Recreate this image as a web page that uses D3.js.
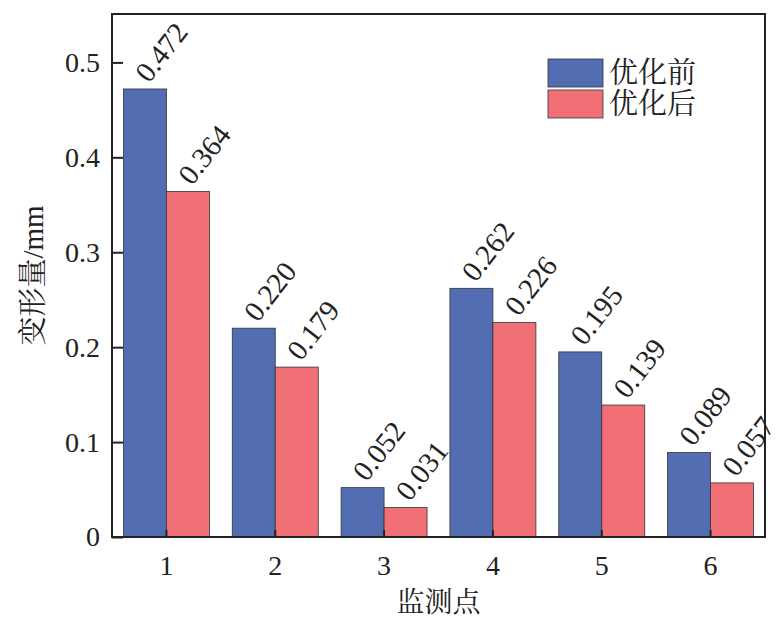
<!DOCTYPE html>
<html>
<head>
<meta charset="utf-8">
<script src="https://cdn.jsdelivr.net/npm/d3@7"></script>
<style>
  body { margin: 0; background: #fff; }
  svg text { font-family: "Liberation Serif", "Times New Roman", "Noto Serif CJK SC", "Noto Sans CJK SC", serif; fill: #222; }
</style>
</head>
<body>
<svg id="chart"></svg>
<script>
const width = 783;
const height = 635;
const serif = '"Liberation Serif", "Times New Roman", "Noto Sans CJK SC", serif';

const points = ["1", "2", "3", "4", "5", "6"];
const before = [0.472, 0.220, 0.052, 0.262, 0.195, 0.089];
const after = [0.364, 0.179, 0.031, 0.226, 0.139, 0.057];
const seriesNames = ["优化前", "优化后"];
const colors = ["#536db3", "#f07075"];
const yTicks = [0, 0.1, 0.2, 0.3, 0.4, 0.5];

const margin = { top: 14, right: 18, bottom: 98, left: 112 };
const innerW = width - margin.left - margin.right;
const innerH = height - margin.top - margin.bottom;

const svg = d3.select("#chart").attr("width", width).attr("height", height);
const g = svg.append("g").attr("transform", `translate(${margin.left},${margin.top})`);

const x = d3.scaleBand().domain(points).range([0, innerW]).padding(0);
const y = d3.scaleLinear().domain([0, 0.551]).range([innerH, 0]);
const barW = x.bandwidth() * 0.395;

const series = [before, after];

series.forEach((vals, si) => {
  g.selectAll(`rect.bar${si}`)
    .data(vals)
    .join("rect")
    .attr("class", `bar${si}`)
    .attr("x", (d, i) => x(points[i]) + x.bandwidth() / 2 + (si - 1) * barW)
    .attr("y", d => y(d))
    .attr("width", barW)
    .attr("height", d => innerH - y(d))
    .attr("fill", colors[si])
    .attr("stroke", "#333")
    .attr("stroke-width", 0.8);

  // value labels, tilted
  g.selectAll(`text.lab${si}`)
    .data(vals)
    .join("text")
    .attr("class", `lab${si}`)
    .attr("transform", (d, i) => {
      const cx = x(points[i]) + x.bandwidth() / 2 + (si - 0.5) * barW;
      return `translate(${cx + 4},${y(d) - 5}) rotate(-52)`;
    })
    .attr("font-family", serif)
    .attr("font-size", 29)
    .text(d => d.toFixed(3));
});

const yAxis = d3.axisLeft(y).tickValues(yTicks).tickSize(-11).tickPadding(14)
  .tickFormat(d => d === 0 ? "0" : d3.format(".1f")(d));
const ya = g.append("g").call(yAxis);
ya.attr("font-family", serif);
ya.select(".domain").remove();
ya.selectAll("line").attr("stroke", "#222").attr("stroke-width", 2);
ya.selectAll("text").attr("font-size", 28).attr("fill", "#222").attr("dx", "2px");

const xAxis = d3.axisBottom(x).tickSize(-7).tickPadding(18);
const xa = g.append("g").attr("transform", `translate(0,${innerH})`).call(xAxis);
xa.attr("font-family", serif);
xa.select(".domain").remove();
xa.selectAll("line").attr("stroke", "#222").attr("stroke-width", 2);
xa.selectAll("text").attr("font-size", 28).attr("fill", "#222");

g.append("rect")
  .attr("width", innerW).attr("height", innerH)
  .attr("fill", "none").attr("stroke", "#222").attr("stroke-width", 2);

svg.append("text")
  .attr("x", margin.left + innerW / 2)
  .attr("y", 612)
  .attr("text-anchor", "middle")
  .attr("font-family", serif)
  .attr("font-size", 28)
  .text("监测点");

svg.append("text")
  .attr("transform", `translate(43,${margin.top + innerH / 2}) rotate(-90)`)
  .attr("text-anchor", "middle")
  .attr("font-family", serif)
  .attr("font-size", 29)
  .text("变形量/mm");

const legend = svg.append("g").attr("transform", "translate(548,59)");
seriesNames.forEach((name, i) => {
  legend.append("rect")
    .attr("x", 0).attr("y", i * 31)
    .attr("width", 55).attr("height", 28)
    .attr("fill", colors[i])
    .attr("stroke", "#333").attr("stroke-width", 0.8);
  legend.append("text")
    .attr("x", 61).attr("y", i * 31 + 14)
    .attr("dy", "0.36em")
    .attr("font-family", serif)
    .attr("font-size", 29)
    .text(name);
});
</script>
</body>
</html>
